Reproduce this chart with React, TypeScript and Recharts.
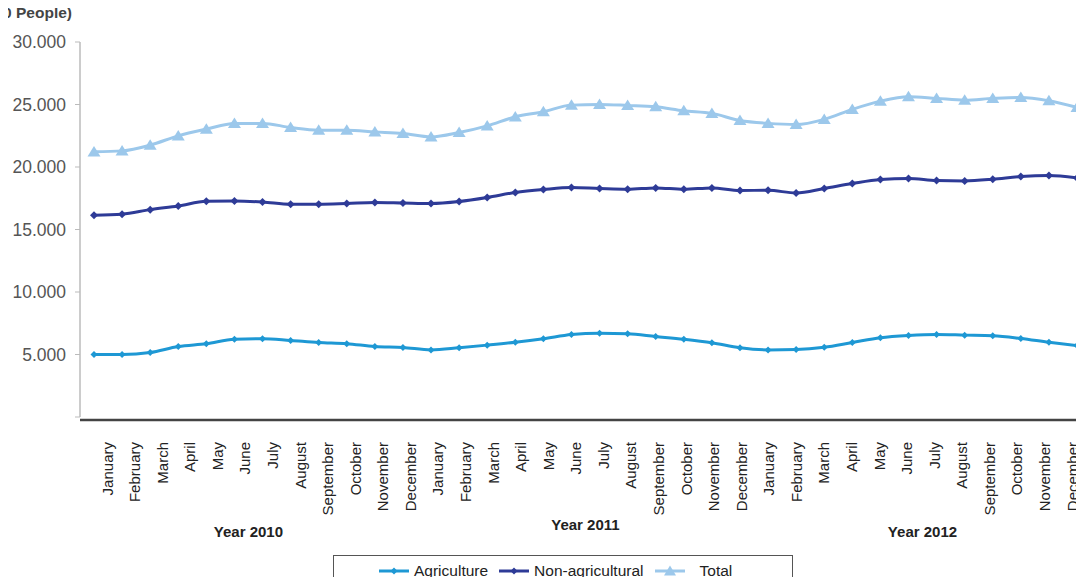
import { Legend, Line, LineChart, XAxis, YAxis } from "recharts";

const months = [
  "January", "February", "March", "April", "May", "June",
  "July", "August", "September", "October", "November", "December",
];
const years = ["Year 2010", "Year 2011", "Year 2012"];

// thousands of people, Jan 2010 .. Dec 2012
const agriculture = [
  5000, 5000, 5160, 5640, 5860, 6220, 6260, 6120, 5960, 5860, 5640, 5560,
  5370, 5540, 5750, 5980, 6260, 6600, 6710, 6660, 6440, 6220, 5940, 5540,
  5370, 5400, 5580, 5960, 6340, 6520, 6600, 6550, 6500, 6280, 5980, 5720,
];
const nonAgricultural = [
  16140, 16220, 16590, 16880, 17260, 17280, 17200, 17020, 17020, 17080, 17160, 17120,
  17080, 17240, 17560, 17960, 18200, 18360, 18280, 18220, 18330, 18220, 18330, 18120,
  18140, 17920, 18280, 18680, 19000, 19080, 18920, 18890, 19020, 19240, 19320, 19130,
];
const total = [
  21210, 21290, 21750, 22490, 23030, 23490, 23490, 23160, 22950, 22950, 22810, 22680,
  22410, 22760, 23290, 24010, 24420, 24950, 25010, 24930, 24820, 24500, 24290, 23720,
  23490, 23400, 23810, 24610, 25270, 25620, 25490, 25350, 25490, 25570, 25300, 24770,
];
const yTicks = [0, 5000, 10000, 15000, 20000, 25000, 30000];

const data = agriculture.map((v, i) => ({
  month: months[i % 12],
  year: years[Math.floor(i / 12)],
  agriculture: v,
  nonAgricultural: nonAgricultural[i],
  total: total[i],
}));

const AGRI = "#1e98d4";
const NONAG = "#2e3b97";
const TOTAL = "#9cc8eb";
const FONT = "Arial, 'Liberation Sans'";

const diamond = (r: number, color: string) => (props: any) => {
  const { cx, cy, index } = props;
  if (cx == null || cy == null) return <g key={index} />;
  return (
    <path
      key={index}
      d={`M${cx},${cy - r}L${cx + r},${cy}L${cx},${cy + r}L${cx - r},${cy}Z`}
      fill={color}
    />
  );
};

const triangle = (color: string) => (props: any) => {
  const { cx, cy, index } = props;
  if (cx == null || cy == null) return <g key={index} />;
  return (
    <path
      key={index}
      d={`M${cx},${cy - 6}L${cx + 6.5},${cy + 4.5}L${cx - 6.5},${cy + 4.5}Z`}
      fill={color}
    />
  );
};

const MonthTick = (props: any) => {
  const { x, y, payload } = props;
  return (
    <text
      x={x}
      y={y}
      transform={`rotate(-90 ${x} ${y})`}
      textAnchor="end"
      dominantBaseline="central"
      fontSize={15}
      fontFamily={FONT}
      fill="#222"
    >
      {payload.value}
    </text>
  );
};

// year label sits between June and July of each year
const YearTick = (props: any) => {
  const { x, y, payload, index } = props;
  if (index % 12 !== 5) return <g />;
  return (
    <text
      x={x + 14}
      y={y + (index === 17 ? -7 : 0)}
      textAnchor="middle"
      dominantBaseline="central"
      fontSize={15}
      fontWeight="bold"
      fontFamily={FONT}
      fill="#222"
    >
      {payload.value}
    </text>
  );
};

const legendItems = [
  { name: "Agriculture", color: AGRI, marker: "diamond", gap: 4 },
  { name: "Non-agricultural", color: NONAG, marker: "diamond", gap: 4 },
  { name: "Total", color: TOTAL, marker: "triangle", gap: 14 },
];

const LegendBox = () => (
  <div
    style={{
      boxSizing: "border-box",
      width: 460,
      height: 40,
      border: "1px solid #555",
      display: "flex",
      alignItems: "flex-start",
      paddingLeft: 44,
      paddingTop: 6,
      fontFamily: FONT,
      fontSize: 15.5,
      color: "#222",
    }}
  >
    {legendItems.map((it) => (
      <div key={it.name} style={{ display: "flex", alignItems: "center", marginRight: 10 }}>
        <svg width={32} height={14} style={{ marginRight: it.gap }}>
          <line x1={1} y1={7} x2={31} y2={7} stroke={it.color} strokeWidth={3} />
          {it.marker === "diamond" ? (
            <path d="M16,3.5L19.5,7L16,10.5L12.5,7Z" fill={it.color} />
          ) : (
            <path d="M16,1.5L22,11.5L10,11.5Z" fill={it.color} />
          )}
        </svg>
        <span>{it.name}</span>
      </div>
    ))}
  </div>
);

export default function App() {
  return (
    <div
      style={{
        margin: -8,
        width: 1084,
        height: 585,
        overflow: "hidden",
        position: "relative",
        background: "#fff",
      }}
    >
      <div
        style={{
          position: "absolute",
          left: -128,
          top: 4,
          width: 200,
          textAlign: "right",
          fontFamily: FONT,
          fontWeight: "bold",
          fontSize: 15.5,
          color: "#444",
        }}
      >
        (000 People)
      </div>
      <LineChart
        width={1084}
        height={585}
        data={data}
        margin={{ top: 42, right: 0, left: 0, bottom: 0 }}
      >
        <XAxis
          xAxisId="months"
          dataKey="month"
          padding={{ left: 27, right: 12 }}
          height={100}
          interval={0}
          axisLine={{ stroke: "#444", strokeWidth: 2.5, transform: "translate(0 3)" }}
          tickLine={false}
          tickSize={0}
          tickMargin={25}
          tick={<MonthTick />}
        />
        <XAxis
          xAxisId="years"
          dataKey="year"
          padding={{ left: 14, right: 7 }}
          height={38}
          interval={0}
          axisLine={false}
          tickLine={false}
          tickSize={0}
          tickMargin={14}
          tick={<YearTick />}
        />
        <YAxis
          width={80}
          domain={[0, 30000]}
          ticks={yTicks}
          interval={0}
          axisLine={{ stroke: "#bbb", strokeWidth: 1.5 }}
          tickLine={{ stroke: "#bbb" }}
          tickSize={5}
          tickMargin={9}
          tick={{ fontSize: 17.5, fill: "#555", fontFamily: FONT }}
          tickFormatter={(v: number) => (v === 0 ? "" : v.toLocaleString("de-DE"))}
        />
        <Legend
          content={<LegendBox />}
          wrapperStyle={{ left: 333, top: 555, width: 460, height: 30, bottom: "auto" }}
        />
        <Line
          xAxisId="years"
          type="monotone"
          dataKey="agriculture"
          name="Agriculture"
          stroke={AGRI}
          strokeWidth={3}
          dot={diamond(3.5, AGRI)}
          activeDot={false}
          isAnimationActive={false}
        />
        <Line
          xAxisId="years"
          type="monotone"
          dataKey="nonAgricultural"
          name="Non-agricultural"
          stroke={NONAG}
          strokeWidth={3}
          dot={diamond(4, NONAG)}
          activeDot={false}
          isAnimationActive={false}
        />
        <Line
          xAxisId="years"
          type="monotone"
          dataKey="total"
          name="Total"
          stroke={TOTAL}
          strokeWidth={3}
          dot={triangle(TOTAL)}
          activeDot={false}
          isAnimationActive={false}
        />
      </LineChart>
    </div>
  );
}
